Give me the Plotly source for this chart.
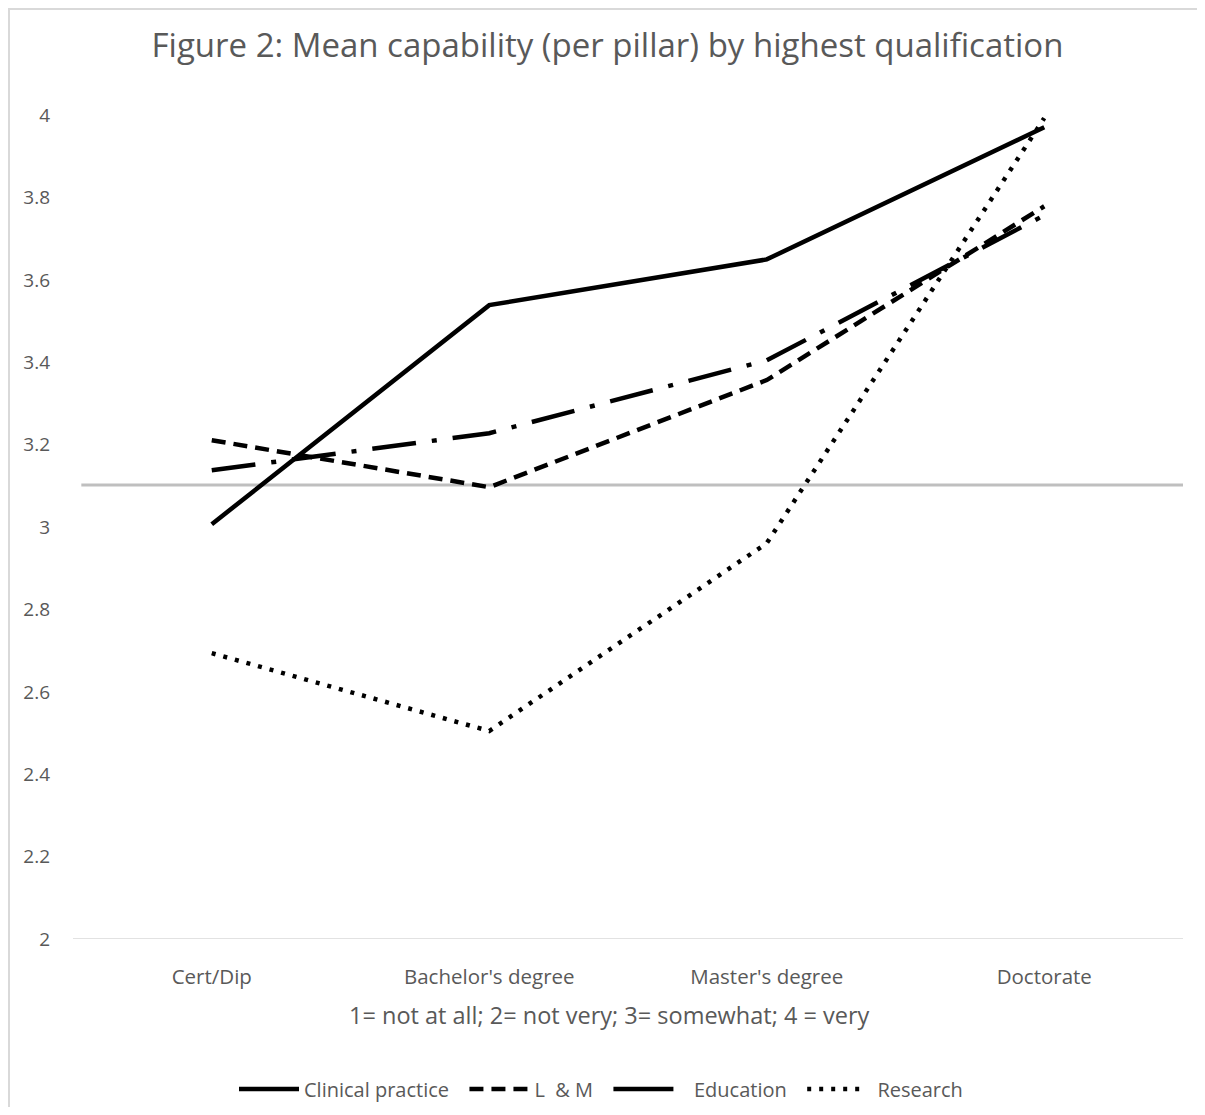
import plotly.graph_objects as go

categories = ["Cert/Dip", "Bachelor's degree", "Master's degree", "Doctorate"]
clinical = [3.007, 3.539, 3.650, 3.971]
lm = [3.211, 3.097, 3.357, 3.779]
education = [3.138, 3.228, 3.405, 3.757]
research = [2.694, 2.505, 2.961, 3.993]
reference_level = 3.102
y_ticks = [2, 2.2, 2.4, 2.6, 2.8, 3, 3.2, 3.4, 3.6, 3.8, 4]

FONT = "Open Sans"
GREY = "#595959"

# page body has an 8px margin on every side; size the figure so the page fits the window
OFF = 8
W, H = 1205 - 2 * OFF, 1115 - 2 * OFF
PLOT_L, PLOT_R, PLOT_T, PLOT_B = 73, 1183, 107, 939   # page pixel edges of plot area
L, T = PLOT_L - OFF, PLOT_T - OFF
R, B = W - (PLOT_R - OFF), H - (PLOT_B - OFF)
PW = W - L - R
PH = H - T - B

def px_to_paper_x(px):
    return (px - OFF - L) / PW

def px_to_paper_y(py):
    return (H - B - (py - OFF)) / PH

fig = go.Figure()
fig.add_trace(go.Scatter(x=categories, y=clinical, name="Clinical practice  ", mode="lines",
                         line=dict(color="black", width=4.5)))
fig.add_trace(go.Scatter(x=categories, y=lm, name="L  & M  ", mode="lines",
                         line=dict(color="black", width=4.5, dash="14px,8px")))
fig.add_trace(go.Scatter(x=categories, y=education, name="Education", mode="lines",
                         legendgroup="edu", showlegend=False,
                         line=dict(color="black", width=4.5, dash="44px,16px,5px,16px")))
# legend entry for Education (solid sample, as in the reference legend)
fig.add_trace(go.Scatter(x=[categories[0]], y=[None], name="   Education  ", mode="lines",
                         legendgroup="edu", line=dict(color="black", width=4.5)))
fig.add_trace(go.Scatter(x=categories, y=research, name=" Research", mode="lines",
                         line=dict(color="black", width=4.5, dash="4px,8px")))

fig.add_shape(type="line", xref="x", yref="y", x0=-0.47, x1=3.5,
              y0=reference_level, y1=reference_level,
              line=dict(color="#BFBFBF", width=3), layer="below")

# chart border (left/top visible)
fig.add_shape(type="rect", xref="paper", yref="paper",
              x0=px_to_paper_x(9), x1=px_to_paper_x(1240),
              y0=px_to_paper_y(1150), y1=px_to_paper_y(9),
              line=dict(color="#D9D9D9", width=2), layer="below")

fig.add_annotation(text="1= not at all; 2= not very; 3= somewhat; 4 = very",
                   xref="paper", yref="paper", x=px_to_paper_x(609), y=px_to_paper_y(1015),
                   xanchor="center", yanchor="middle", showarrow=False,
                   font=dict(family=FONT, size=23.5, color=GREY))

fig.update_layout(
    width=W, height=H,
    margin=dict(l=L, r=R, t=T, b=B, autoexpand=False),
    paper_bgcolor="white", plot_bgcolor="white",
    font=dict(family=FONT, color=GREY, size=19),
    title=dict(text="Figure 2: Mean capability (per pillar) by highest qualification",
               x=(607.5 - OFF) / W, xref="container", xanchor="center",
               y=1 - (45 - OFF) / H, yref="container", yanchor="middle",
               font=dict(family=FONT, size=33, color=GREY)),
    showlegend=True,
    legend=dict(orientation="h", x=px_to_paper_x(601), xanchor="center", xref="paper",
                y=px_to_paper_y(1089), yanchor="middle",
                font=dict(family=FONT, size=20, color=GREY),
                itemwidth=60, tracegroupgap=0),
    xaxis=dict(type="category", range=[-0.5, 3.5], showgrid=False, zeroline=False,
               showline=False, ticks="", ticklabelstandoff=23,
               tickfont=dict(family=FONT, size=20.5, color=GREY)),
    yaxis=dict(range=[2, 4.02], tickvals=y_ticks, ticktext=[f"{v:g}" for v in y_ticks],
               showgrid=False, zeroline=False, showline=False, ticks="",
               ticklabelstandoff=22, tickfont=dict(family=FONT, size=19, color=GREY)),
)

fig.add_shape(type="line", xref="paper", yref="y", x0=0, x1=1, y0=2, y1=2,
              line=dict(color="#D9D9D9", width=1.5), layer="below")

fig.write_html("out.html")
